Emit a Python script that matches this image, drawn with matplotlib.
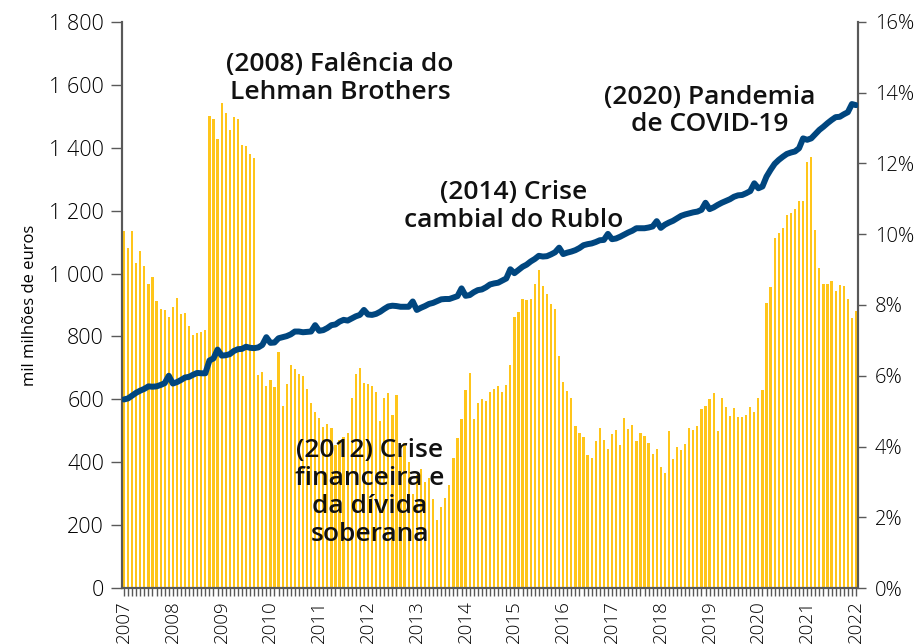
import numpy as np
import matplotlib
matplotlib.use("Agg")
import matplotlib.pyplot as plt
from matplotlib.ticker import FuncFormatter, FixedLocator, MultipleLocator

plt.rcParams['font.family'] = ['Open Sans', 'DejaVu Sans']

# Monthly data, Jan 2007 .. Jan 2022
years = [str(y) for y in range(2007, 2023)]

bars = [1135, 1081, 1135, 1035, 1072, 1024, 967, 988, 913, 887, 883, 863, 895, 922, 871, 874, 833, 806, 811, 813, 822,
        1500, 1490, 1428, 1543, 1510, 1457, 1498, 1493, 1408, 1407, 1381, 1367,
        677, 686, 641, 661, 639, 750, 579, 648, 709, 695, 679, 674, 632, 587,
        560,
        541, 513, 520, 508,
        455, 470, 480,
        492,
        605, 680, 700, 652, 650, 643, 622, 531, 603, 619, 551, 615,
        420, 460, 400, 300, 360, 380, 338, 350,
        282, 216, 257, 286, 328, 412, 476, 537, 630, 684, 537, 587, 600, 595, 623, 632, 642, 624, 646, 708,
        861, 878, 919, 916, 919, 966, 1010, 960, 934, 904, 888, 738,
        656, 628, 603, 515, 493, 480, 424, 412, 469, 510, 470, 442, 490, 504, 455, 540, 507, 518, 469, 493,
        482, 461, 426, 442, 384, 366, 499, 409, 447, 439, 458, 508, 503, 514,
        570, 579, 602, 619, 499, 603, 575, 548, 571, 544, 544, 550, 576, 561, 605, 629, 907, 958, 1113, 1128,
        1145, 1187, 1193, 1205, 1231, 1230, 1354, 1371, 1139, 1018, 968, 966, 976, 945, 963, 961, 919, 859, 880]

line_pct = [5.33, 5.36, 5.44, 5.52, 5.58, 5.63, 5.70, 5.69, 5.70, 5.74, 5.79,
            6.00,
            5.78, 5.82, 5.88, 5.95, 5.97, 6.03, 6.08, 6.07, 6.07,
            6.43, 6.49, 6.74, 6.57, 6.58, 6.61, 6.70, 6.75, 6.76, 6.82, 6.79, 6.78, 6.80, 6.87,
            7.09,
            6.93, 6.94, 7.06, 7.09, 7.12, 7.17, 7.25, 7.25, 7.23, 7.24, 7.25,
            7.43,
            7.27, 7.29, 7.35, 7.43, 7.45, 7.53, 7.58, 7.56, 7.62, 7.68, 7.72,
            7.86,
            7.73, 7.72, 7.75, 7.81, 7.89, 7.96, 7.98, 7.97, 7.95, 7.95, 7.95,
            8.10,
            7.86, 7.92, 7.97, 8.03, 8.06, 8.11, 8.16, 8.17, 8.17, 8.21, 8.25,
            8.47,
            8.26, 8.28, 8.36, 8.42, 8.44, 8.50, 8.58, 8.61, 8.63, 8.69, 8.75,
            9.01,
            8.90, 8.99, 9.08, 9.14, 9.23, 9.30, 9.39, 9.37, 9.38, 9.43, 9.49,
            9.62,
            9.44, 9.48, 9.51, 9.55, 9.61, 9.69, 9.72, 9.74, 9.78, 9.83, 9.84,
            10.01,
            9.86, 9.88, 9.93, 9.99, 10.05, 10.10, 10.17, 10.17, 10.17, 10.19, 10.22,
            10.37,
            10.18, 10.27, 10.33, 10.38, 10.45, 10.52, 10.56, 10.59, 10.62, 10.64, 10.69,
            10.89,
            10.71, 10.76, 10.83, 10.89, 10.94, 10.99, 11.06, 11.10, 11.11, 11.16, 11.22,
            11.44,
            11.30, 11.35, 11.63, 11.82, 11.99, 12.10, 12.19, 12.27, 12.31, 12.34, 12.43,
            12.71,
            12.67, 12.71, 12.83, 12.95, 13.04, 13.14, 13.23, 13.31, 13.32, 13.39, 13.45, 13.68, 13.65]

left_ticks = [0, 200, 400, 600, 800, 1000, 1200, 1400, 1600, 1800]
right_ticks = [0, 2, 4, 6, 8, 10, 12, 14, 16]

annotations = [
    ("(2008) Falência do\nLehman Brothers", 53.1, 1619),
    ("(2014) Crise\ncambial do Rublo", 95.9, 1212),
    ("(2020) Pandemia\nde COVID-19", 144.1, 1517),
    ("(2012) Crise\nfinanceira e\nda dívida\nsoberana", 60.5, 304),
]

BAR_COLOR = '#FFC51A'
LINE_COLOR = '#00467F'
SPINE = '#595959'

fig = plt.figure(figsize=(9.21, 6.44), dpi=100)
ax = fig.add_axes([122/921, 1 - 588/644, (858 - 122)/921, (588 - 22)/644])
x = np.arange(len(bars))
ax.bar(x, bars, width=0.55, color=BAR_COLOR, linewidth=0, zorder=1)
ax.set_xlim(-0.5, len(bars) - 0.5)
ax.set_ylim(0, 1800)
ax.yaxis.set_major_locator(FixedLocator(left_ticks))
ax.yaxis.set_major_formatter(FuncFormatter(lambda v, p: f"{int(v):,}".replace(",", " ")))

year_pos = np.arange(0, len(bars), 12)
ax.xaxis.set_major_locator(FixedLocator(year_pos))
ax.set_xticklabels(years[:len(year_pos)], rotation=90, fontsize=13.5, fontweight='light')
ax.xaxis.set_minor_locator(MultipleLocator(1))
ax.tick_params(axis='x', which='both', length=6, width=1, color=SPINE, pad=3)
ax.tick_params(axis='y', length=8, width=1, color=SPINE, labelsize=15.5, pad=5)
for lab in ax.get_yticklabels():
    lab.set_fontweight('light')

ax.spines['top'].set_visible(False)
for s in ['left', 'right', 'bottom']:
    ax.spines[s].set_color(SPINE)
    ax.spines[s].set_linewidth(1.5)
ax.set_ylabel("mil milhões de euros", fontsize=12, labelpad=8)

ax2 = ax.twinx()
ax2.plot(x, line_pct, color=LINE_COLOR, lw=4.3, solid_joinstyle='round', solid_capstyle='round', zorder=3)
ax2.set_ylim(0, 16)
ax2.yaxis.set_major_locator(FixedLocator(right_ticks))
ax2.yaxis.set_major_formatter(FuncFormatter(lambda v, p: f"{int(v)}%"))
ax2.tick_params(axis='y', length=6, width=1, color=SPINE, labelsize=14.5, pad=6)
for lab in ax2.get_yticklabels():
    lab.set_fontweight('light')
ax2.spines['top'].set_visible(False)
for s in ['left', 'right', 'bottom']:
    ax2.spines[s].set_color(SPINE)
    ax2.spines[s].set_linewidth(1.5)

for txt, xm, yv in annotations:
    ax2.text(xm, yv / 1800 * 16, txt, ha='center', va='center', fontsize=19,
             fontweight='semibold', color='#111111', linespacing=1.15, zorder=5)

fig.savefig("out.png", dpi=100)
